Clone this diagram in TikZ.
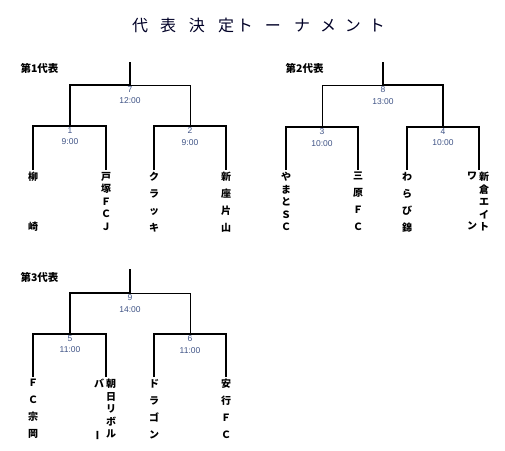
\documentclass[tikz,border=0pt]{standalone}
\usepackage{fontspec}
\setmainfont{Liberation Sans}
\newfontfamily\jp{Noto Sans CJK JP}
\usetikzlibrary{positioning}
\definecolor{numcol}{RGB}{64,84,134}

\begin{document}
\begin{tikzpicture}[x=1pt, y=-1pt, line width=1.2pt,
  leg/.style={line width=1.7pt},
  win/.style={line width=1.7pt},
  lose/.style={line width=1pt},
  team/.style={anchor=north, inner sep=0pt, align=center, font=\jp\bfseries\fontsize{10}{12.5}\selectfont},
  team4/.style={team, font=\jp\bfseries\fontsize{10}{17}\selectfont},
  team2/.style={team, font=\jp\bfseries\fontsize{10}{50}\selectfont},
  num/.style={anchor=north, inner sep=0pt, align=center, text=numcol, font=\fontsize{8.5}{11.5}\selectfont},
  grp/.style={anchor=west, inner sep=0pt, font=\jp\bfseries\fontsize{10.5}{12}\selectfont},
  ttl/.style={inner sep=0pt, text=black!85!blue, font=\jp\fontsize{16}{16}\selectfont}]
  \useasboundingbox (0,0) rectangle (505,450);
  \node[ttl] (title) at (258.5,25) {代\hspace{12pt}表\hspace{13pt}決\hspace{13pt}定\hspace{3pt}ト\hspace{12pt}ー\hspace{13pt}ナ\hspace{10pt}メ\hspace{9pt}ン\hspace{8pt}ト};

  % 第1代表
  \node[grp] (g1) at (20,68) {第1代表};
  \coordinate (s7) at (130,62);
  \coordinate (m7) at (130,85);
  \coordinate (m1) at (70,126);
  \coordinate (m2) at (190,126);
  \coordinate (e1) at (33,170);
  \coordinate (e2) at (106,170);
  \coordinate (e3) at (154,170);
  \coordinate (e4) at (226,170);
  \draw (s7) -- (m7);
  \draw[win] (m1) |- (m7);
  \draw[lose] (m2) |- (m7);
  \draw[leg] (e1) |- (m1);
  \draw[leg] (e2) |- (m1);
  \draw[leg] (e3) |- (m2);
  \draw[leg] (e4) |- (m2);
  \node[num, below=1pt of m7] (n7) {7\\12:00};
  \node[num, below=1pt of m1] (n1) {1\\9:00};
  \node[num, below=1pt of m2] (n2) {2\\9:00};
  \node[team2, below=1.5pt of e1] (t1) {柳\\崎};
  \node[team, below=1.5pt of e2] (t2) {戸\\塚\\Ｆ\\Ｃ\\Ｊ};
  \node[team4, below=1.5pt of e3] (t3) {ク\\ラ\\ッ\\キ};
  \node[team4, below=1.5pt of e4] (t4) {新\\座\\片\\山};

  % 第2代表
  \node[grp] (g2) at (285,68) {第2代表};
  \coordinate (s8) at (383,62);
  \coordinate (m8) at (383,85);
  \coordinate (m3) at (322,127);
  \coordinate (m4) at (443,127);
  \coordinate (e5) at (286,170);
  \coordinate (e6) at (358,170);
  \coordinate (e7) at (407,170);
  \coordinate (e8) at (479,170);
  \draw[win] (s8) -- (m8);
  \draw[lose] (m3) |- (m8);
  \draw[win] (m4) |- (m8);
  \draw[leg] (e5) |- (m3);
  \draw[leg] (e6) |- (m3);
  \draw[leg] (e7) |- (m4);
  \draw[leg] (e8) |- (m4);
  \node[num, below=1pt of m8] (n8) {8\\13:00};
  \node[num, below=1pt of m3] (n3) {3\\10:00};
  \node[num, below=1pt of m4] (n4) {4\\10:00};
  \node[team, below=1.5pt of e5] (t5) {や\\ま\\と\\Ｓ\\Ｃ};
  \node[team4, below=1.5pt of e6] (t6) {三\\原\\Ｆ\\Ｃ};
  \node[team4, below=1.5pt of e7] (t7) {わ\\ら\\び\\錦};
  \node[team] (t8) at (484,171.5) {新\\倉\\エ\\イ\\ト};
  \node[team2] (t8b) at (472,171.5) {ワ\\ン};

  % 第3代表
  \node[grp] (g3) at (20,277) {第3代表};
  \coordinate (s9) at (130,269);
  \coordinate (m9) at (130,293);
  \coordinate (m5) at (70,334);
  \coordinate (m6) at (190,334);
  \coordinate (e9) at (33,377);
  \coordinate (e10) at (106,377);
  \coordinate (e11) at (154,377);
  \coordinate (e12) at (226,377);
  \draw (s9) -- (m9);
  \draw[win] (m5) |- (m9);
  \draw[lose] (m6) |- (m9);
  \draw[leg] (e9) |- (m5);
  \draw[leg] (e10) |- (m5);
  \draw[leg] (e11) |- (m6);
  \draw[leg] (e12) |- (m6);
  \node[num, below=1pt of m9] (n9) {9\\14:00};
  \node[num, below=1pt of m5] (n5) {5\\11:00};
  \node[num, below=1pt of m6] (n6) {6\\11:00};
  \node[team4, below=1.5pt of e9] (t9) {Ｆ\\Ｃ\\宗\\岡};
  \node[team] (t10) at (111,378.5) {朝\\日\\リ\\ボ\\ル};
  \node[team2] (t10b) at (99,378.5) {バ\\\rotatebox[origin=c]{90}{ー}};
  \node[team4, below=1.5pt of e11] (t11) {ド\\ラ\\ゴ\\ン};
  \node[team4, below=1.5pt of e12] (t12) {安\\行\\Ｆ\\Ｃ};
\end{tikzpicture}
\end{document}
